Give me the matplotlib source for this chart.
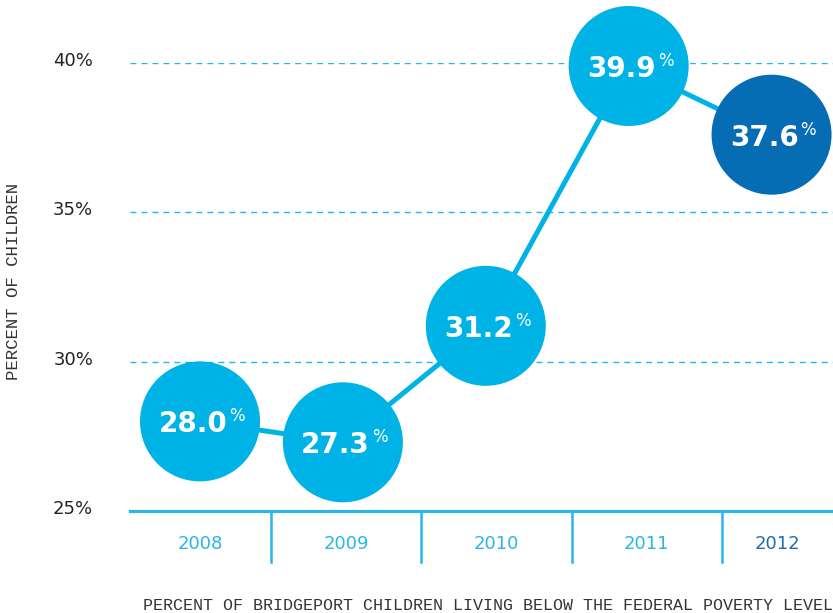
import matplotlib.pyplot as plt
import matplotlib.transforms as mtransforms

# data
years = ["2008", "2009", "2010", "2011", "2012"]
values = [28.0, 27.3, 31.2, 39.9, 37.6]
yticks = [25, 30, 35, 40]
ytick_labels = ["25%", "30%", "35%", "40%"]

light = "#00b3e6"
dark = "#066cb4"
circle_colors = [light, light, light, light, dark]
year_colors = ["#29b6e8"] * 4 + ["#1a6fb5"]

fig = plt.figure(figsize=(8.33, 6.13), dpi=100)
ax = fig.add_axes([130 / 833, 102 / 613, 703 / 833, 448 / 613])

x = list(range(len(years)))
ax.set_xlim(-0.49, 4.43)
ax.set_ylim(25, 40)

# dashed gridlines
for t in yticks[1:]:
    ax.axhline(t, color="#1cb8ee", lw=1, ls=(0, (4.3, 3.6)), zorder=1)
# baseline
ax.axhline(25, color="#2cb5e6", lw=2.3, zorder=2, clip_on=False)

# line and circles
ax.plot(x, values, color=light, lw=3.6, zorder=3, clip_on=False)
ax.scatter(x, values, s=7465, c=circle_colors, linewidths=0, zorder=4, clip_on=False)

for xi, v in zip(x, values):
    ax.annotate("%.1f" % v, (xi, v), xytext=(27, -11), textcoords="offset pixels",
                ha="right", va="baseline", color="white", fontsize=20, fontweight="bold", zorder=5)
    ax.annotate("%", (xi, v), xytext=(29, 0), textcoords="offset pixels",
                ha="left", va="baseline", color="white", fontsize=12, zorder=5)

# category cells below the axis
bounds = [-0.49, 0.5, 1.55, 2.6, 3.65, 4.43]
trans = mtransforms.blended_transform_factory(ax.transData, ax.transAxes)
for b in bounds[1:-1]:
    ax.plot([b, b], [0, -0.114], color="#2cb5e6", lw=1.8, transform=trans, clip_on=False)
for i, yr in enumerate(years):
    mid = (bounds[i] + bounds[i + 1]) / 2
    ax.text(mid, -0.074, yr, transform=trans, ha="center", va="center",
            color=year_colors[i], fontsize=13)

# y ticks
ax.set_yticks(yticks)
ax.set_yticklabels(ytick_labels, fontsize=13, color="#222222")
ax.tick_params(axis="y", length=0, pad=26.5)
for lbl in ax.get_yticklabels():
    lbl.set_transform(lbl.get_transform() + mtransforms.ScaledTranslation(0, 4 / 100, fig.dpi_scale_trans))
ax.set_xticks([])
for s in ax.spines.values():
    s.set_visible(False)

fig.text(14 / 833, 1 - 281 / 613, "PERCENT OF CHILDREN", rotation=90, ha="center", va="center",
         family="Liberation Mono", fontsize=12.5, color="#333333")
fig.text(833 / 833, 1 - 605 / 613, "PERCENT OF BRIDGEPORT CHILDREN LIVING BELOW THE FEDERAL POVERTY LEVEL",
         ha="right", va="center", family="Liberation Mono", fontsize=12, color="#333333")

fig.savefig("out.png", dpi=100)
